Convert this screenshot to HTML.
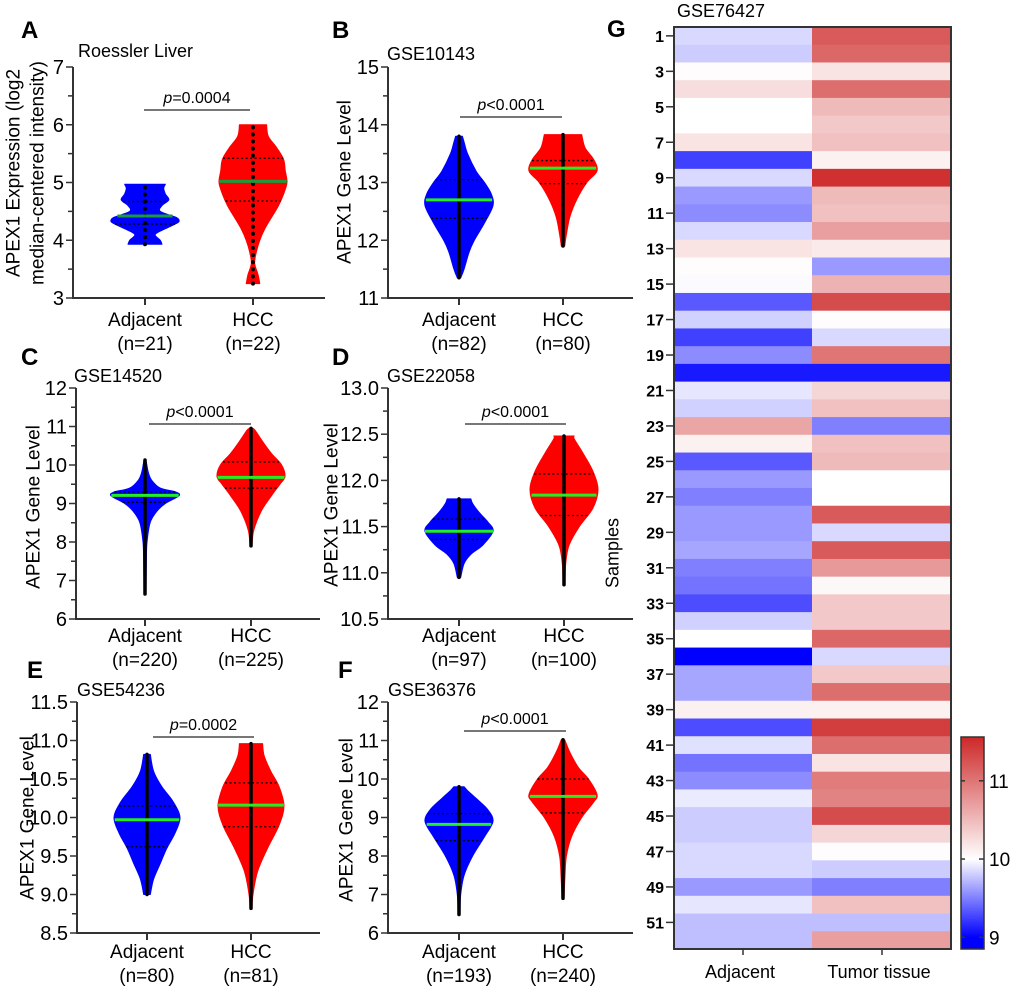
<!DOCTYPE html>
<html><head><meta charset="utf-8"><style>
html,body{margin:0;padding:0;background:#fff;}
svg{display:block;font-family:"Liberation Sans",Arial,sans-serif;}
</style></head><body>
<svg id="fig" width="1020" height="990" viewBox="0 0 1020 990" xmlns="http://www.w3.org/2000/svg">
<defs>
<linearGradient id="cbgrad" x1="0" y1="1" x2="0" y2="0">
<stop offset="0" stop-color="#0000ff"/>
<stop offset="0.055" stop-color="#0000ff"/>
<stop offset="0.424" stop-color="#ffffff"/>
<stop offset="1" stop-color="#cd2828"/>
</linearGradient>
</defs>
</svg>
<script>
// ---------- violin data ----------
const aAdjLevels=[3.93,4.0,4.1,4.2,4.3,4.35,4.4,4.5,4.6,4.7,4.8,4.9,4.97];
const aAdjDensity=[0.5,0.45,0.3,0.6,0.95,1.0,0.9,0.45,0.5,0.7,0.6,0.55,0.6];
const aAdjStats=[4.28,4.42,4.67]; const aAdjRange=[3.93,4.97];
const aHccLevels=[3.25,3.4,3.6,3.8,4.0,4.2,4.4,4.6,4.8,5.0,5.2,5.4,5.6,5.8,6.0];
const aHccDensity=[0.2,0.15,0.05,0.1,0.2,0.35,0.55,0.75,0.9,1.0,0.95,0.9,0.7,0.45,0.4];
const aHccStats=[4.68,5.02,5.42]; const aHccRange=[3.25,6.0];

const bAdjLevels=[11.35,11.5,11.8,12.0,12.3,12.6,12.8,13.0,13.2,13.5,13.7,13.8];
const bAdjDensity=[0.05,0.15,0.3,0.45,0.75,1.0,0.95,0.75,0.5,0.25,0.15,0.1];
const bAdjStats=[12.38,12.7,13.05]; const bAdjRange=[11.35,13.8];
const bHccLevels=[11.9,12.1,12.4,12.7,13.0,13.2,13.4,13.6,13.83];
const bHccDensity=[0.05,0.1,0.2,0.4,0.7,1.0,0.9,0.65,0.55];
const bHccStats=[12.98,13.25,13.38]; const bHccRange=[11.9,13.83];

const cAdjLevels=[6.65,7.5,8.0,8.5,8.8,9.0,9.2,9.3,9.4,9.6,9.8,10.13];
const cAdjDensity=[0.03,0.04,0.06,0.15,0.35,0.6,1.0,0.9,0.45,0.2,0.1,0.03];
const cAdjStats=[9.03,9.21,9.3]; const cAdjRange=[6.65,10.13];
const cHccLevels=[7.9,8.3,8.8,9.2,9.5,9.7,10.0,10.3,10.6,10.9,10.95];
const cHccDensity=[0.03,0.08,0.3,0.6,0.85,1.0,0.9,0.6,0.35,0.12,0.05];
const cHccStats=[9.4,9.68,10.08]; const cHccRange=[7.9,10.95];

const dAdjLevels=[10.95,11.1,11.2,11.3,11.45,11.55,11.65,11.75,11.8];
const dAdjDensity=[0.05,0.15,0.35,0.7,1.0,0.85,0.6,0.4,0.35];
const dAdjStats=[11.36,11.45,11.58]; const dAdjRange=[10.95,11.8];
const dHccLevels=[10.87,11.1,11.3,11.5,11.7,11.9,12.1,12.3,12.45,12.48];
const dHccDensity=[0.03,0.05,0.15,0.45,0.85,1.0,0.85,0.55,0.3,0.3];
const dHccStats=[11.62,11.84,12.07]; const dHccRange=[10.87,12.48];

const eAdjLevels=[9.0,9.2,9.4,9.6,9.8,10.0,10.2,10.4,10.6,10.82];
const eAdjDensity=[0.1,0.2,0.4,0.6,0.85,1.0,0.8,0.45,0.2,0.1];
const eAdjStats=[9.62,9.97,10.15]; const eAdjRange=[9.0,10.82];
const eHccLevels=[8.82,9.0,9.3,9.6,9.9,10.15,10.4,10.6,10.8,10.96];
const eHccDensity=[0.03,0.06,0.2,0.5,0.85,1.0,0.85,0.6,0.4,0.35];
const eHccStats=[9.88,10.16,10.45]; const eHccRange=[8.82,10.96];

const fAdjLevels=[6.48,7.0,7.5,8.0,8.5,8.9,9.2,9.5,9.7,9.8];
const fAdjDensity=[0.03,0.05,0.15,0.4,0.75,1.0,0.85,0.5,0.25,0.15];
const fAdjStats=[8.4,8.82,9.1]; const fAdjRange=[6.48,9.8];
const fHccLevels=[6.9,7.5,8.0,8.5,9.0,9.4,9.6,10.0,10.3,10.7,11.02];
const fHccDensity=[0.03,0.06,0.1,0.25,0.55,0.9,1.0,0.75,0.45,0.2,0.05];
const fHccStats=[9.12,9.55,10.0]; const fHccRange=[6.9,11.02];

// ---------- heatmap data ----------
const adjacentValues=[9.85,9.8,10.02,10.25,10.0,10.0,10.2,9.25,9.85,9.6,9.55,9.85,10.2,10.02,9.98,9.35,9.82,9.25,9.55,9.1,9.9,9.82,10.65,10.1,9.35,9.6,9.5,9.6,9.6,9.65,9.5,9.45,9.3,9.82,10.0,9.0,9.65,9.65,10.1,9.3,9.88,9.45,9.55,9.92,9.8,9.8,9.85,9.85,9.6,9.9,9.75,9.75];
const tumorValues=[11.2,11.1,10.2,11.05,10.5,10.4,10.45,10.1,11.5,10.5,10.45,10.7,10.15,9.6,10.55,11.3,10.02,9.85,11.0,9.1,10.3,10.45,9.5,10.45,10.5,10.0,10.0,11.2,9.85,11.2,10.75,10.05,10.4,10.4,11.1,9.85,10.4,11.05,10.1,11.4,11.05,10.2,10.95,10.9,11.3,10.3,10.02,9.8,9.5,10.45,9.75,10.7];
const sampleTickLabels=[1,3,5,7,9,11,13,15,17,19,21,23,25,27,29,31,33,35,37,39,41,43,45,47,49,51];
const colorbarTicks=[9,10,11];

const NS="http://www.w3.org/2000/svg";
const svg=document.getElementById('fig');
function mk(tag,attrs,parent){const e=document.createElementNS(NS,tag);for(const k in attrs)e.setAttribute(k,attrs[k]);(parent||svg).appendChild(e);return e;}
function txt(s,x,y,size,attrs,parent){const e=mk('text',Object.assign({x:x,y:y,'font-size':size,fill:'#000'},attrs||{}),parent);e.textContent=s;return e;}

function interp(levels,dens,v){
  if(v<=levels[0])return dens[0];
  for(let i=1;i<levels.length;i++){if(v<=levels[i]){const t=(v-levels[i-1])/(levels[i]-levels[i-1]);return dens[i-1]+t*(dens[i]-dens[i-1]);}}
  return dens[dens.length-1];
}
// Catmull-Rom smoothing through points (continuing an existing path)
function smooth(pts){
  let d='';
  for(let i=0;i<pts.length-1;i++){
    const p0=pts[i-1]||pts[i],p1=pts[i],p2=pts[i+1],p3=pts[i+2]||p2;
    const c1=[p1[0]+(p2[0]-p0[0])/6,p1[1]+(p2[1]-p0[1])/6];
    const c2=[p2[0]-(p3[0]-p1[0])/6,p2[1]-(p3[1]-p1[1])/6];
    d+='C'+c1[0].toFixed(1)+','+c1[1].toFixed(1)+' '+c2[0].toFixed(1)+','+c2[1].toFixed(1)+' '+p2[0].toFixed(1)+','+p2[1].toFixed(1);
  }
  return d;
}

const panels=[
 {id:'a',letter:'A',lx:21,ly:38,title:'Roessler Liver',tx:78,ty:57,ax:73,axEnd:325,top:67,bot:298,min:3,max:7,major:1,minor:0.5,dec:0,cats:[145,253],half:34,
  ytitle:['APEX1 Expression (log2','median-centered intensity)'],ytx:[13,37],yty:173,p:'=0.0004',pl:[144,250],py:110,
  labels:[['Adjacent','(n=21)'],['HCC','(n=22)']],lby:[326,350],
  v:[[aAdjLevels,aAdjDensity,aAdjStats,aAdjRange],[aHccLevels,aHccDensity,aHccStats,aHccRange]]},
 {id:'b',letter:'B',lx:332,ly:38,title:'GSE10143',tx:387,ty:60,ax:388,axEnd:633,top:67,bot:298,min:11,max:15,major:1,minor:0.5,dec:0,cats:[459,563],half:34,
  ytitle:['APEX1 Gene Level'],ytx:[344],yty:182,p:'<0.0001',pl:[460,562],py:117,
  labels:[['Adjacent','(n=82)'],['HCC','(n=80)']],lby:[326,350],
  v:[[bAdjLevels,bAdjDensity,bAdjStats,bAdjRange],[bHccLevels,bHccDensity,bHccStats,bHccRange]]},
 {id:'c',letter:'C',lx:21,ly:365,title:'GSE14520',tx:74,ty:382,ax:76,axEnd:320,top:388,bot:619,min:6,max:12,major:1,minor:0.5,dec:0,cats:[145,251],half:34,
  ytitle:['APEX1 Gene Level'],ytx:[33],yty:507,p:'<0.0001',pl:[149,251],py:424,
  labels:[['Adjacent','(n=220)'],['HCC','(n=225)']],lby:[642,666],
  v:[[cAdjLevels,cAdjDensity,cAdjStats,cAdjRange],[cHccLevels,cHccDensity,cHccStats,cHccRange]]},
 {id:'d',letter:'D',lx:332,ly:365,title:'GSE22058',tx:387,ty:382,ax:388,axEnd:633,top:388,bot:619,min:10.5,max:13,major:0.5,minor:0.25,dec:1,cats:[459,564],half:34,
  ytitle:['APEX1 Gene Level'],ytx:[331],yty:505,p:'<0.0001',pl:[465,566],py:424,
  labels:[['Adjacent','(n=97)'],['HCC','(n=100)']],lby:[642,666],
  v:[[dAdjLevels,dAdjDensity,dAdjStats,dAdjRange],[dHccLevels,dHccDensity,dHccStats,dHccRange]]},
 {id:'e',letter:'E',lx:27,ly:678,title:'GSE54236',tx:77,ty:696,ax:77,axEnd:320,top:702,bot:933,min:8.5,max:11.5,major:0.5,minor:0.25,dec:1,cats:[147,251],half:33,
  ytitle:['APEX1 Gene Level'],ytx:[27],yty:818,p:'=0.0002',pl:[153,254],py:737,
  labels:[['Adjacent','(n=80)'],['HCC','(n=81)']],lby:[958,982],
  v:[[eAdjLevels,eAdjDensity,eAdjStats,eAdjRange],[eHccLevels,eHccDensity,eHccStats,eHccRange]]},
 {id:'f',letter:'F',lx:338,ly:678,title:'GSE36376',tx:388,ty:696,ax:388,axEnd:633,top:702,bot:933,min:6,max:12,major:1,minor:0.5,dec:0,cats:[459,563],half:34,
  ytitle:['APEX1 Gene Level'],ytx:[346],yty:820,p:'<0.0001',pl:[464,566],py:731,
  labels:[['Adjacent','(n=193)'],['HCC','(n=240)']],lby:[958,982],
  v:[[fAdjLevels,fAdjDensity,fAdjStats,fAdjRange],[fHccLevels,fHccDensity,fHccStats,fHccRange]]}
];

panels.forEach(P=>{
  const g=mk('g',{});
  
  
  const y=v=>P.top+(P.max-v)/(P.max-P.min)*(P.bot-P.top);
  const L=txt(P.letter,P.lx,P.ly,24,{'font-weight':'bold'},g);
  
  
  const T=txt(P.title,P.tx,P.ty,18,{},g);
  
  
  P.v.forEach((V,ci)=>{
    const [lev,den,st,rg]=V; const cx=P.cats[ci];
    const right=lev.map((l,i)=>[cx+den[i]*P.half,y(l)]);
    const left=lev.map((l,i)=>[cx-den[i]*P.half,y(l)]).reverse();
    const yb=y(lev[0]).toFixed(1), yt=y(lev[lev.length-1]).toFixed(1);
    const d='M'+cx+','+yb+'L'+right[0][0].toFixed(1)+','+right[0][1].toFixed(1)+smooth(right)+'L'+cx+','+yt+'L'+left[0][0].toFixed(1)+','+left[0][1].toFixed(1)+smooth(left)+'Z';
    const path=mk('path',{d:d,fill:ci==0?'#0000ff':'#ff0000',stroke:ci==0?'#0000ff':'#ff0000','stroke-width':1,'stroke-linejoin':'round'},g);
    
    
    const strip=mk('line',{x1:cx,x2:cx,y1:y(rg[0]),y2:y(rg[1]),stroke:'#000','stroke-width':P.id==='a'?4:3.5,'stroke-linecap':'round','stroke-dasharray':P.id==='a'?'0.1 7':'none'},g);
    
    
    [st[0],st[2]].forEach(q=>{
      const w=interp(lev,den,q)*P.half;
      const ql=mk('line',{x1:cx-w,x2:cx+w,y1:y(q),y2:y(q),stroke:'#000','stroke-width':1.3,'stroke-dasharray':'2 2.5'},g);
      
      
    });
    const mw=interp(lev,den,st[1])*P.half;
    const ml=mk('line',{x1:cx-mw,x2:cx+mw,y1:y(st[1]),y2:y(st[1]),stroke:P.id==='a'?'#1a9a3a':'#22ee22','stroke-width':3},g);
    
    
  });
  const ya=mk('line',{x1:P.ax,x2:P.ax,y1:P.top,y2:P.bot+1,stroke:'#333','stroke-width':2},g);
  
  
  const xa=mk('line',{x1:P.ax-1,x2:P.axEnd,y1:P.bot,y2:P.bot,stroke:'#333','stroke-width':2},g);
  
  
  const nMinor=Math.round((P.max-P.min)/P.minor);
  for(let i=0;i<=nMinor;i++){
    const v=P.min+i*P.minor; const isMajor=Math.abs(v/P.major-Math.round(v/P.major))<1e-6;
    mk('line',{x1:P.ax-(isMajor?7:5),x2:P.ax,y1:y(v),y2:y(v),stroke:'#333','stroke-width':1.5},g);
    if(isMajor){const tl=txt(v.toFixed(P.dec),P.ax-9,y(v)+7,20,{'text-anchor':'end'},g);
      
      }
  }
  P.cats.forEach((cx,ci)=>{
    mk('line',{x1:cx,x2:cx,y1:P.bot,y2:P.bot+7,stroke:'#333','stroke-width':2},g);
    const c1=txt(P.labels[ci][0],cx,P.lby[0],19,{'text-anchor':'middle'},g);
    
    
    const c2=txt(P.labels[ci][1],cx,P.lby[1],19,{'text-anchor':'middle'},g);
    
    
  });
  P.ytitle.forEach((s,i)=>{
    const t=txt(s,P.ytx[i],P.yty,19,{'text-anchor':'middle',transform:'rotate(-90 '+P.ytx[i]+' '+P.yty+')',dy:'0.35em'},g);
    
    
  });
  const pl=mk('line',{x1:P.pl[0],x2:P.pl[1],y1:P.py,y2:P.py,stroke:'#777','stroke-width':2},g);
  
  
  const pt=mk('text',{x:(P.pl[0]+P.pl[1])/2,y:P.py-7,'font-size':16,'text-anchor':'middle',fill:'#000'},g);
  
  
  const it=mk('tspan',{'font-style':'italic'},pt); it.textContent='p';
  const rt=mk('tspan',{},pt); rt.textContent=P.p;
});

// ---------- heatmap ----------
const H={left:674,mid:812,right:951,top:27,bot:949};
function colorFor(v){
  let r,gg,b;
  if(v<=10){const t=Math.max(0,Math.min(1,(v-9)/1));r=255*t;gg=255*t;b=255;}
  else{const t=Math.max(0,Math.min(1,(v-10)/1.56));r=255+(205-255)*t;gg=255+(40-255)*t;b=255+(40-255)*t;}
  return 'rgb('+Math.round(r)+','+Math.round(gg)+','+Math.round(b)+')';
}
const hg=mk('g',{});


const rh=(H.bot-H.top)/adjacentValues.length;
adjacentValues.forEach((v,i)=>{
  const r=mk('rect',{x:H.left,y:H.top+i*rh,width:H.mid-H.left,height:rh+0.5,fill:colorFor(v)},hg);
  
  
});
tumorValues.forEach((v,i)=>{
  const r=mk('rect',{x:H.mid,y:H.top+i*rh,width:H.right-H.mid,height:rh+0.5,fill:colorFor(v)},hg);
  
  
});
const frame=mk('rect',{x:H.left,y:H.top,width:H.right-H.left,height:H.bot-H.top,fill:'none',stroke:'#333','stroke-width':2},hg);


sampleTickLabels.forEach(n=>{
  const yy=H.top+(n-0.5)*rh;
  mk('line',{x1:H.left-8,x2:H.left,y1:yy,y2:yy,stroke:'#333','stroke-width':1.5},hg);
  const t=txt(String(n),H.left-10,yy+6,16,{'text-anchor':'end','font-weight':'bold'},hg);
  
  
});
[[743,'Adjacent'],[882,'Tumor tissue']].forEach(([x,s])=>{
  mk('line',{x1:x,x2:x,y1:H.bot,y2:H.bot+6,stroke:'#333','stroke-width':1.5},hg);
  const t=txt(s,x-3,978,18,{'text-anchor':'middle'},hg);
  
  
});
const gL=txt('G',607,37,24,{'font-weight':'bold'});


const gT=txt('GSE76427',677,17,18,{});


const sm=txt('Samples',612,553,18,{'text-anchor':'middle',transform:'rotate(-90 612 553)',dy:'0.35em'});



const CB={x:961,w:23,top:737,bot:949,vmin:8.85,vmax:11.56};
const cbY=v=>CB.bot-(v-CB.vmin)/(CB.vmax-CB.vmin)*(CB.bot-CB.top);
const cb=mk('rect',{x:CB.x,y:CB.top,width:CB.w,height:CB.bot-CB.top,fill:'url(#cbgrad)',stroke:'#333','stroke-width':1.5});


colorbarTicks.forEach(v=>{
  const yy=cbY(v);
  mk('line',{x1:CB.x+CB.w-5,x2:CB.x+CB.w,y1:yy,y2:yy,stroke:'#333','stroke-width':1.5});
  mk('line',{x1:CB.x,x2:CB.x+4,y1:yy,y2:yy,stroke:'#333','stroke-width':1.5});
  const t=txt(String(v),CB.x+CB.w+5,yy+7,19,{});
  
  
});
</script>
</body></html>
